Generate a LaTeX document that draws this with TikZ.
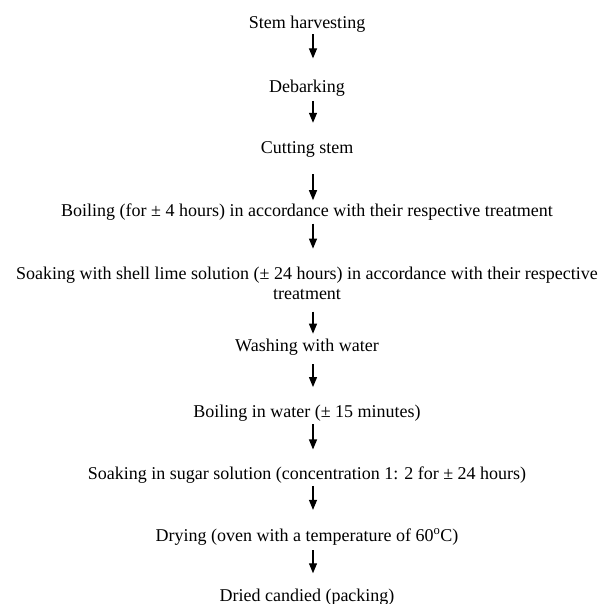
\documentclass[tikz,border=0pt]{standalone}
\usepackage{fontspec}
\setmainfont{Liberation Serif}
\usepackage{tikz}
\usetikzlibrary{arrows.meta,positioning}
\tikzset{
  stage/.style={rectangle, inner sep=0pt, align=center,
                text height=13pt, text depth=5pt,
                font=\fontsize{18}{20}\selectfont},
  arrow/.style={-{Triangle[length=10pt,width=8pt]}, line width=1.2pt, draw=black}
}

\begin{document}
\begin{tikzpicture}[node distance=44pt]
\useasboundingbox (0,0) rectangle (608pt,-604pt);

\node[stage, anchor=north] (harvest) at (307pt,-15pt) {Stem harvesting};
\node[stage, below=46pt of harvest] (debark) {Debarking};
\node[stage, below=43pt of debark] (cut) {Cutting stem};
\node[stage, below=44pt of cut] (boil) {Boiling (for ± 4 hours) in accordance with their respective treatment};
\node[stage, text height={}, text depth={}, below=45pt of boil] (soak)
  {Soaking with shell lime solution (± 24 hours) in accordance with their respective\\treatment};
\node[stage, below=39pt of soak] (wash) {Washing with water};
\node[stage, below=47pt of wash] (boilwater) {Boiling in water (± 15 minutes)};
\node[stage, below=44pt of boilwater] (sugar) {Soaking in sugar solution (concentration 1: 2 for ± 24 hours)};
\node[stage, below=43pt of sugar] (dry) {Drying (oven with a temperature of 60\textsuperscript{o}C)};
\node[stage, below=42pt of dry] (pack) {Dried candied (packing)};

\draw[arrow, shorten <=1pt, shorten >=21pt] ([xshift=6pt]harvest.south) -- ([xshift=6pt]debark.north);
\draw[arrow, shorten <=3pt, shorten >=18pt] ([xshift=6pt]debark.south) -- ([xshift=6pt]cut.north);
\draw[arrow, shorten <=15pt, shorten >=3pt] ([xshift=6pt]cut.south) -- ([xshift=6pt]boil.north);
\draw[arrow, shorten <=2pt, shorten >=18pt] ([xshift=6pt]boil.south) -- ([xshift=6pt]soak.north);
\draw[arrow, shorten <=12pt, shorten >=5pt] ([xshift=6pt]soak.south) -- ([xshift=6pt]wash.north);
\draw[arrow, shorten <=7pt, shorten >=17pt] ([xshift=6pt]wash.south) -- ([xshift=6pt]boilwater.north);
\draw[arrow, shorten <=2pt, shorten >=17pt] ([xshift=6pt]boilwater.south) -- ([xshift=6pt]sugar.north);
\draw[arrow, shorten <=1pt, shorten >=18pt] ([xshift=6pt]sugar.south) -- ([xshift=6pt]dry.north);
\draw[arrow, shorten <=4pt, shorten >=15pt] ([xshift=6pt]dry.south) -- ([xshift=6pt]pack.north);
\end{tikzpicture}
\end{document}
